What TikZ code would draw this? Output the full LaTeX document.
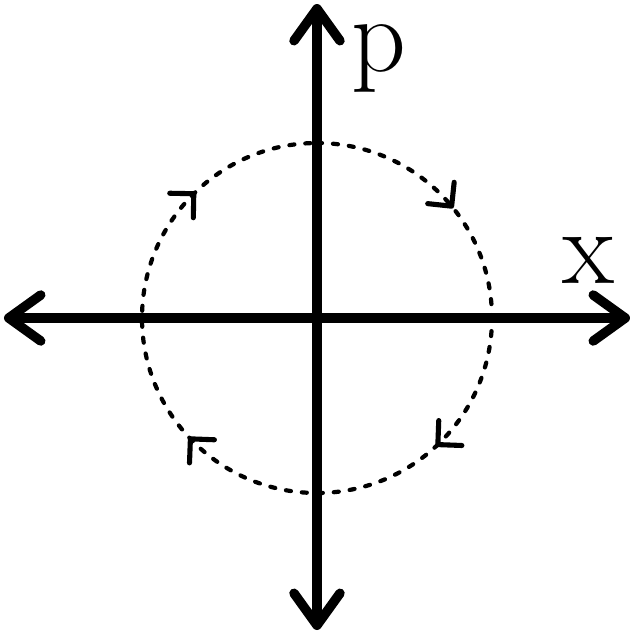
\documentclass[tikz,border=0pt]{standalone}
\usepackage{tikz}
\usetikzlibrary{arrows.meta, decorations.markings}

\tikzset{
    axis/.style={line width=2.7pt, {Straight Barb[length=0.32cm, width=0.46cm, round]}-{Straight Barb[length=0.32cm, width=0.46cm, round]}},
    orbit/.style={line width=1.2pt, dash pattern=on 0.05cm off 0.11cm, line cap=round},
    flow/.tip={Straight Barb[length=0.17cm, width=0.34cm, line width=1.45pt, round]},
    axlabel/.style={anchor=base, inner sep=0pt, font=\fontsize{30.5}{30.5}\selectfont}
}

\begin{document}
\begin{tikzpicture}
    \useasboundingbox (-3.17,-3.16) rectangle (3.17,3.18);

    \coordinate (xl) at (-3.13, 0);
    \coordinate (xr) at (3.13, 0);
    \coordinate (pb) at (0, -3.12);
    \coordinate (pt) at (0, 3.14);

    \node[axlabel] (xlab) at (2.72, 0.35) {x};
    \node[axlabel] (plab) at (0.62, 2.47) {p};

    % phase space orbit, clockwise
    \draw[orbit, postaction={decorate, decoration={markings,
        mark=at position 0.142 with {\arrow{flow}},
        mark=at position 0.381 with {\arrow{flow}},
        mark=at position 0.631 with {\arrow{flow}},
        mark=at position 0.878 with {\arrow{flow}}}}]
        (0, 1.75) arc[start angle=90, end angle=-270, radius=1.75];

    \draw[axis] (xl) -- (xr);
    \draw[axis] (pb) -- (pt);
\end{tikzpicture}
\end{document}
